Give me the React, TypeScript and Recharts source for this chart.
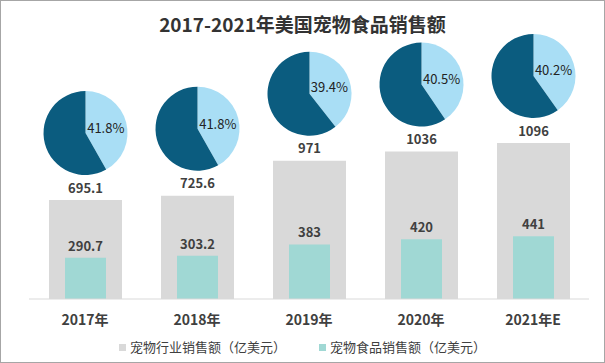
import React from 'react';
import { ComposedChart, Bar, XAxis, YAxis, LabelList, Sector } from 'recharts';

const years = ['2017年', '2018年', '2019年', '2020年', '2021年E'];
const industrySales = [695.1, 725.6, 971, 1036, 1096];
const foodSales = [290.7, 303.2, 383, 420, 441];
const foodShare = [41.8, 41.8, 39.4, 40.5, 40.2];

const data = years.map((year, i) => ({
  year,
  industry: industrySales[i],
  food: foodSales[i],
}));

const FONT = '"Noto Sans CJK SC", "Noto Sans", sans-serif';
const GRAY = '#d9d9d9';
const TEAL = '#a0d8d4';
const PIE_DARK = '#0b5c7f';
const PIE_LIGHT = '#a9def5';
const TEXT = '#404040';

// pie + total label drawn above each industry bar
const IndustryLabel = (props: any) => {
  const x = props.x ?? props.viewBox?.x;
  const y = props.y ?? props.viewBox?.y;
  const width = props.width ?? props.viewBox?.width;
  const index = props.index;
  const share = foodShare[index];
  const cx = x + width / 2;
  const cy = y - 67;
  const r = 42;
  const split = 90 - 3.6 * share;
  const mid = ((90 - 1.8 * share) * Math.PI) / 180;
  const lx = cx + r * 0.5 * Math.cos(mid);
  const ly = cy - r * 0.5 * Math.sin(mid);
  return (
    <g>
      <Sector cx={cx} cy={cy} innerRadius={0} outerRadius={r} startAngle={90} endAngle={split} fill={PIE_LIGHT} />
      <Sector cx={cx} cy={cy} innerRadius={0} outerRadius={r} startAngle={split} endAngle={-270} fill={PIE_DARK} />
      <text x={lx} y={ly} textAnchor="middle" dominantBaseline="central" fontSize={13} fill="#222" fontFamily={FONT}>
        {share}%
      </text>
      <text x={cx} y={y - 13} textAnchor="middle" dominantBaseline="central" fontSize={13} fontWeight="bold" fill={TEXT} fontFamily={FONT}>
        {industrySales[index]}
      </text>
    </g>
  );
};

const LegendItem = ({ color, text }: { color: string; text: string }) => (
  <div style={{ display: 'flex', alignItems: 'center', gap: 4 }}>
    <div style={{ width: 7, height: 7, background: color }} />
    <span>{text}</span>
  </div>
);

export default function App() {
  return (
    <div
      style={{
        position: 'fixed',
        left: 0,
        top: 0,
        width: 605,
        height: 363,
        boxSizing: 'border-box',
        border: '1px solid #a6a6a6',
        background: '#fff',
        fontFamily: FONT,
      }}
    >
      <div
        style={{
          position: 'absolute',
          top: 9,
          left: 0,
          width: '100%',
          textAlign: 'center',
          fontSize: 19,
          fontWeight: 'bold',
          color: '#333',
          lineHeight: '28px',
        }}
      >
        2017-2021年美国宠物食品销售额
      </div>
      <div style={{ position: 'absolute', left: -1, top: -1 }}>
        <ComposedChart width={605} height={363} data={data} margin={{ top: 30, right: 16, bottom: 34, left: 29 }}>
          <YAxis hide domain={[0, 1890]} />
          <XAxis
            xAxisId="a"
            dataKey="year"
            height={30}
            tickLine={false}
            tickSize={0}
            tickMargin={16}
            axisLine={{ stroke: GRAY }}
            tick={{ fontSize: 14, fontWeight: 'bold', fill: TEXT, fontFamily: FONT }}
          />
          <XAxis xAxisId="b" dataKey="year" hide />
          <Bar xAxisId="a" dataKey="industry" fill={GRAY} barSize={73} isAnimationActive={false}>
            <LabelList dataKey="industry" content={IndustryLabel} />
          </Bar>
          <Bar xAxisId="b" dataKey="food" fill={TEAL} barSize={41} isAnimationActive={false}>
            <LabelList
              dataKey="food"
              position="top"
              offset={7}
              style={{ fontSize: 13, fontWeight: 'bold', fill: TEXT, fontFamily: FONT }}
            />
          </Bar>
        </ComposedChart>
      </div>
      <div
        style={{
          position: 'absolute',
          top: 337,
          left: 0,
          width: '100%',
          display: 'flex',
          justifyContent: 'center',
          gap: 33,
          fontSize: 13,
          color: TEXT,
          lineHeight: '18px',
        }}
      >
        <LegendItem color={GRAY} text="宠物行业销售额（亿美元）" />
        <LegendItem color={TEAL} text="宠物食品销售额（亿美元）" />
      </div>
    </div>
  );
}
